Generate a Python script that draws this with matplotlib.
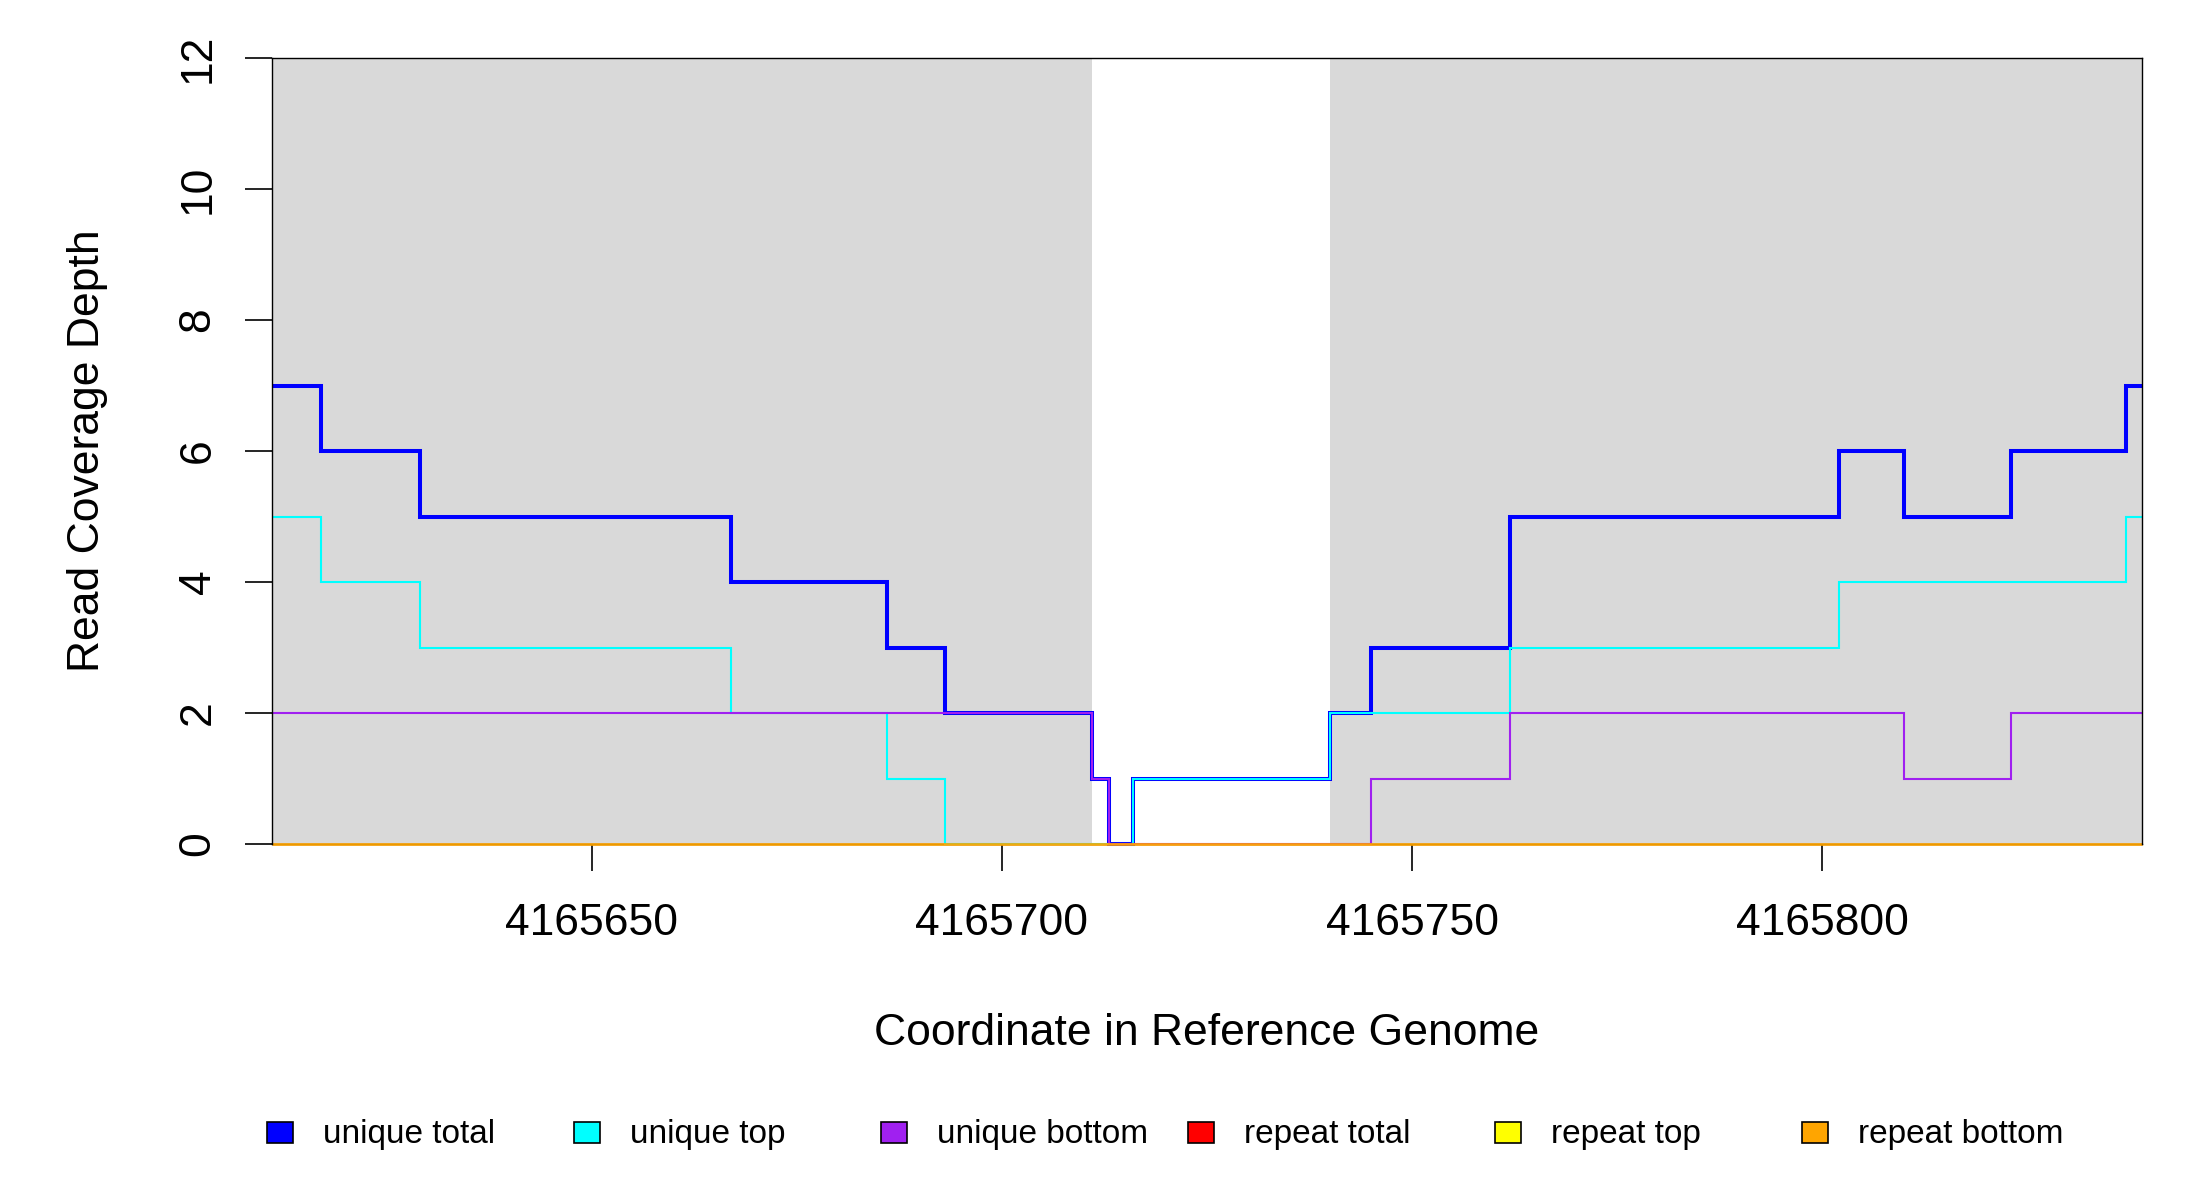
import matplotlib
matplotlib.use("Agg")
import matplotlib.pyplot as plt
from matplotlib.patches import Rectangle

plt.rcParams['font.family'] = ['Liberation Sans', 'DejaVu Sans']

# step edges (genome coordinate) and per-segment depth values
edges = [4165611, 4165617, 4165629, 4165667, 4165686, 4165693, 4165711, 4165713,
         4165716, 4165740, 4165745, 4165762, 4165802, 4165810, 4165823, 4165837, 4165839]
unique_total = [7, 6, 5, 4, 3, 2, 1, 0, 1, 2, 3, 5, 6, 5, 6, 7]
unique_top = [5, 4, 3, 2, 1, 0, 0, 0, 1, 2, 2, 3, 4, 4, 4, 5]
unique_bottom = [2, 2, 2, 2, 2, 2, 1, 0, 0, 0, 1, 2, 2, 1, 2, 2]
repeat_total = [0] * 16
repeat_top = [0] * 16
repeat_bottom = [0] * 16

# shaded regions
shade_start = [4165611, 4165740]
shade_end = [4165711, 4165839]

xticks = [4165650, 4165700, 4165750, 4165800]
yticks = [0, 2, 4, 6, 8, 10, 12]

labels = ['unique total', 'unique top', 'unique bottom',
          'repeat total', 'repeat top', 'repeat bottom']
colors = ['#0000FF', '#00FFFF', '#A020F0', '#FF0000', '#FFFF00', '#FFA500']

fig = plt.figure(figsize=(22, 12), dpi=100)
ax = fig.add_axes([272/2200, 1-844/1200, 1870/2200, 786/1200])

for s, e in zip(shade_start, shade_end):
    ax.axvspan(s, e, color='#D9D9D9', lw=0, zorder=0)

series = [unique_total, unique_top, unique_bottom, repeat_total, repeat_top, repeat_bottom]
widths = [2.9, 1.5, 1.5, 1.8, 1.8, 1.8]
alphas = [1, 1, 1, 0.5, 0.5, 0.7]
for vals, c, w, a in zip(series, colors, widths, alphas):
    ax.stairs(vals, edges, baseline=None, color=c, lw=w, alpha=a, zorder=2, clip_on=False)

ax.set_xlim(4165611, 4165839)
ax.set_ylim(0, 12)
ax.set_xticks(xticks)
ax.set_xticklabels([str(v) for v in xticks])
ax.set_yticks(yticks)
ax.set_yticklabels([str(v) for v in yticks], rotation=90, va='center')

ax.tick_params(axis='both', length=19.5, width=1.2, labelsize=32, direction='out')
ax.tick_params(axis='x', pad=23)
ax.tick_params(axis='y', pad=19)
for sp in ax.spines.values():
    sp.set_linewidth(1.0)
    sp.set_zorder(3)
ax.spines['bottom'].set_zorder(1.5)

ax.set_xlabel('Coordinate in Reference Genome', fontsize=32, labelpad=50)
ax.set_ylabel('Read Coverage Depth', fontsize=32, labelpad=50)

# legend row along the bottom
for i, (lab, c) in enumerate(zip(labels, colors)):
    x0 = 267 + 307 * i
    fig.patches.append(Rectangle((x0/2200, 1-1143/1200), 26/2200, 21/1200,
                                 transform=fig.transFigure, facecolor=c,
                                 edgecolor='black', lw=1.2))
    fig.text((x0 + 56)/2200, 1-1134/1200, lab, fontsize=24, va='center', ha='left')

fig.savefig('out.png', dpi=100)
